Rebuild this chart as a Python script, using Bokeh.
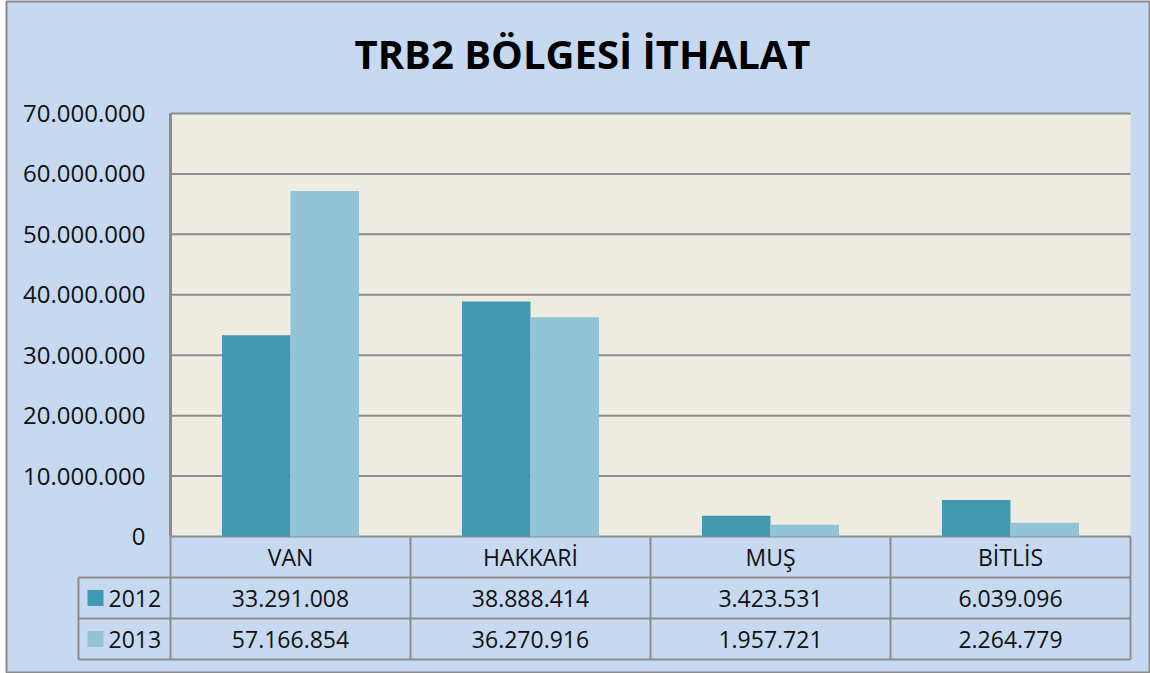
from bokeh.plotting import figure
from bokeh.models import Range1d, FixedTicker, CustomJSTickFormatter
from bokeh.core.properties import value
from bokeh.embed import file_html
from bokeh.resources import INLINE

# ---- data ----
categories = ["VAN", "HAKKARİ", "MUŞ", "BİTLİS"]
years = ["2012", "2013"]
values_2012 = [33291008, 38888414, 3423531, 6039096]
values_2013 = [57166854, 36270916, 1957721, 2264779]
y_ticks = [0, 10000000, 20000000, 30000000, 40000000, 50000000, 60000000, 70000000]
title_text = "TRB2 BÖLGESİ İTHALAT"

# ---- styles ----
BG = "#C6D9F1"
PLOT_BG = "#EEECE1"
C2012 = "#4399B2"
C2013 = "#93C4D6"
LINE = "#8C8C8C"
FONT = "Open Sans"

W, H = 1150, 673
FL, FT = 6, 1           # frame offset inside the canvas
FW, FH = W - FL, H - FT  # frame size
# pixel geometry (canvas coords)
PLOT_LEFT, PLOT_RIGHT = 170, 1130
PLOT_TOP, PLOT_BOTTOM = 113, 536
YMAX = 70000000
PX_PER_X = (PLOT_RIGHT - PLOT_LEFT) / 4.0
PX_PER_Y = (PLOT_BOTTOM - PLOT_TOP) / YMAX

def px_x(px):
    return (px - PLOT_LEFT) / PX_PER_X

def px_y(py):
    return (PLOT_BOTTOM - py) / PX_PER_Y

p = figure(width=W, height=H, output_backend="svg", toolbar_location=None,
           x_range=Range1d(px_x(FL), px_x(W)), y_range=Range1d(px_y(H), px_y(FT)),
           x_axis_type=None, min_border=0, min_border_left=FL, min_border_right=0,
           min_border_top=FT, min_border_bottom=0)
p.background_fill_color = BG
p.border_fill_color = "#FFFFFF"
p.outline_line_color = "#8A8A8A"
p.outline_line_width = 2
p.xgrid.visible = False
p.ygrid.visible = False

n = len(categories)
# plot area background
p.quad(left=[0], right=[n], bottom=[0], top=[YMAX], fill_color=PLOT_BG, line_color=None)

# gridlines
p.segment(x0=[0] * len(y_ticks), x1=[n] * len(y_ticks), y0=y_ticks, y1=y_ticks,
          line_color=LINE, line_width=2)

# bars
bw = 0.2855
xc = [i + 0.5 for i in range(n)]
p.vbar(x=[x - bw / 2 for x in xc], top=values_2012, width=bw, bottom=0,
       fill_color=C2012, line_color=None)
p.vbar(x=[x + bw / 2 for x in xc], top=values_2013, width=bw, bottom=0,
       fill_color=C2013, line_color=None)

# y axis
ax = p.yaxis[0]
ax.fixed_location = 0
ax.bounds = (0, YMAX)
ax.ticker = FixedTicker(ticks=y_ticks)
ax.formatter = CustomJSTickFormatter(code="return tick.toFixed(0).replace(/\\B(?=(\\d{3})+(?!\\d))/g, '.');")
ax.axis_line_color = LINE
ax.axis_line_width = 3
ax.major_tick_out = 0
ax.major_tick_in = 0
ax.minor_tick_out = 0
ax.minor_tick_in = 0
ax.major_label_standoff = 25
ax.major_label_text_font = FONT
ax.major_label_text_font_size = "24px"
ax.major_label_text_color = "#111111"

# ---- data table ----
row_h = [px_y(577), px_y(618), px_y(659)]
x_leg = px_x(78)
p.segment(x0=[x_leg] * 3, x1=[n] * 3, y0=row_h, y1=row_h, line_color=LINE, line_width=2)
p.segment(x0=list(range(n + 1)), x1=list(range(n + 1)), y0=[0] * (n + 1),
          y1=[row_h[2]] * (n + 1), line_color=LINE, line_width=2)
p.segment(x0=[x_leg], x1=[x_leg], y0=[row_h[0]], y1=[row_h[2]], line_color=LINE, line_width=2)

def fmt(v):
    return f"{v:,}".replace(",", ".")

hdr_y = row_h[0] / 2
r1_y = (row_h[0] + row_h[1]) / 2
r2_y = (row_h[1] + row_h[2]) / 2

txt = dict(text_font=value(FONT), text_font_size="23px", text_color="#111111",
           text_baseline="middle")
p.text(x=xc, y=[hdr_y] * n, text=categories, text_align="center", **txt)
p.text(x=xc, y=[r1_y] * n, text=[fmt(v) for v in values_2012], text_align="center", **txt)
p.text(x=xc, y=[r2_y] * n, text=[fmt(v) for v in values_2013], text_align="center", **txt)

# legend keys
sw_x = px_x(95)
p.scatter(x=[sw_x, sw_x], y=[r1_y, r2_y], marker="square", size=16,
          fill_color=[C2012, C2013], line_color=None)
p.text(x=[px_x(108)] * 2, y=[r1_y, r2_y], text=years, text_align="left", **txt)

# title
p.text(x=[px_x(582)], y=[px_y(53)], text=[title_text], text_align="center",
       text_baseline="middle", text_font=value(FONT), text_font_size="40px",
       text_font_style="bold", text_color="#000000")

open("out.html", "w").write(file_html(p, INLINE))
